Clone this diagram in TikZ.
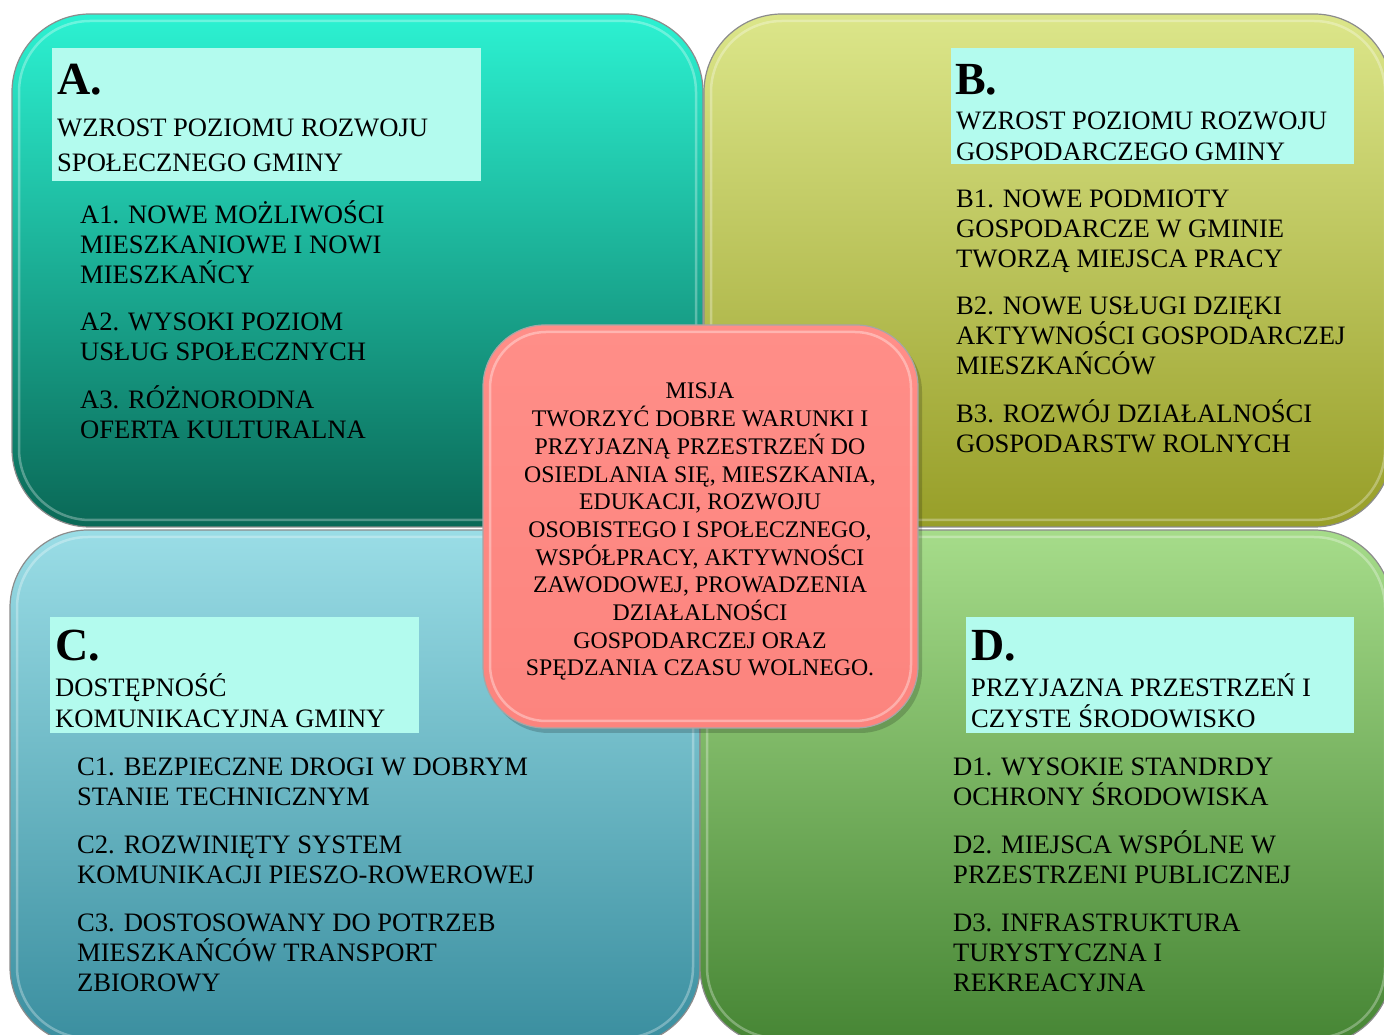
\documentclass[tikz,border=0pt]{standalone}
\usepackage{fontspec}
\setmainfont{Liberation Serif}

\definecolor{aTop}{HTML}{2CF2D2}
\definecolor{aMid}{HTML}{12B898}
\definecolor{aBot}{HTML}{0A6856}
\definecolor{bTop}{HTML}{DCE68A}
\definecolor{bMid}{HTML}{C4D03C}
\definecolor{bBot}{HTML}{979E28}
\definecolor{cTop}{HTML}{9ADDE6}
\definecolor{cMid}{HTML}{5CC6D6}
\definecolor{cBot}{HTML}{3A8E9F}
\definecolor{dTop}{HTML}{A6DC8A}
\definecolor{dMid}{HTML}{66B84A}
\definecolor{dBot}{HTML}{468534}
\definecolor{mTop}{HTML}{FF8E88}
\definecolor{mBot}{HTML}{FC847E}
\definecolor{mint}{HTML}{B3FBEE}

\begin{document}
\begin{tikzpicture}[x=1pt,y=1pt,
  tile/.style={rounded corners=78pt, draw=black!45, line width=1.2pt},
  rim/.style={rounded corners=71pt, draw=white, draw opacity=.3, line width=2.5pt},
  letter/.style={anchor=base west, inner sep=0, font=\fontsize{46}{46}\selectfont\bfseries},
  head/.style={anchor=base west, align=left, inner sep=0, font=\fontsize{26.6}{31}\selectfont},
  goal/.style={anchor=base west, align=left, inner sep=0, font=\fontsize{26.6}{30}\selectfont},
  mission/.style={anchor=base, align=center, inner sep=0, font=\fontsize{23.8}{27.7}\selectfont}]
  \useasboundingbox (0,0) rectangle (1384,1034);

  % four fields
  \shadedraw[tile, top color=aTop, middle color=aMid, bottom color=aBot] (12,507) rectangle (703,1020);
  \draw[rim] (19,514) rectangle (696,1013);
  \shadedraw[tile, top color=bTop, middle color=bMid, bottom color=bBot] (704,507) rectangle (1392,1020);
  \draw[rim] (711,514) rectangle (1385,1013);
  \shadedraw[tile, top color=cTop, middle color=cMid, bottom color=cBot] (10,-11) rectangle (700,504);
  \draw[rim] (17,-4) rectangle (693,497);
  \shadedraw[tile, top color=dTop, middle color=dMid, bottom color=dBot] (700,-11) rectangle (1392,504);
  \draw[rim] (707,-4) rectangle (1385,497);

  % header boxes
  \fill[mint] (52,853) rectangle (481,986);
  \fill[mint] (951,870) rectangle (1354,986);
  \fill[mint] (50,301) rectangle (419,417);
  \fill[mint] (966,301) rectangle (1354,417);

  % A (nodes sit on the baseline of their last line)
  \node[letter] (A) at (57,939) {A.};
  \node[head, font=\fontsize{26.6}{35}\selectfont] (Ahead) at (57,862) {WZROST POZIOMU ROZWOJU\\SPOŁECZNEGO GMINY};
  \node[goal] (A1) at (80,750) {A1. NOWE MOŻLIWOŚCI\\MIESZKANIOWE I NOWI\\MIESZKAŃCY};
  \node[goal] (A2) at (80,673) {A2. WYSOKI POZIOM\\USŁUG SPOŁECZNYCH};
  \node[goal] (A3) at (80,595) {A3. RÓŻNORODNA\\OFERTA KULTURALNA};

  % B
  \node[letter] (B) at (955,939) {B.};
  \node[head] (Bhead) at (956,873) {WZROST POZIOMU ROZWOJU\\GOSPODARCZEGO GMINY};
  \node[goal] (B1) at (956,766) {B1. NOWE PODMIOTY\\GOSPODARCZE W GMINIE\\TWORZĄ MIEJSCA PRACY};
  \node[goal] (B2) at (956,659) {B2. NOWE USŁUGI DZIĘKI\\AKTYWNOŚCI GOSPODARCZEJ\\MIESZKAŃCÓW};
  \node[goal] (B3) at (956,581) {B3. ROZWÓJ DZIAŁALNOŚCI\\GOSPODARSTW ROLNYCH};

  % C
  \node[letter] (C) at (55,373) {C.};
  \node[head] (Chead) at (55,306) {DOSTĘPNOŚĆ\\KOMUNIKACYJNA GMINY};
  \node[goal] (C1) at (77,228) {C1. BEZPIECZNE DROGI W DOBRYM\\STANIE TECHNICZNYM};
  \node[goal] (C2) at (77,151) {C2. ROZWINIĘTY SYSTEM\\KOMUNIKACJI PIESZO-ROWEROWEJ};
  \node[goal] (C3) at (77,43) {C3. DOSTOSOWANY DO POTRZEB\\MIESZKAŃCÓW TRANSPORT\\ZBIOROWY};

  % D
  \node[letter] (D) at (971,373) {D.};
  \node[head] (Dhead) at (971,306) {PRZYJAZNA PRZESTRZEŃ I\\CZYSTE ŚRODOWISKO};
  \node[goal] (D1) at (953,228) {D1. WYSOKIE STANDRDY\\OCHRONY ŚRODOWISKA};
  \node[goal] (D2) at (953,151) {D2. MIEJSCA WSPÓLNE W\\PRZESTRZENI PUBLICZNEJ};
  \node[goal] (D3) at (953,43) {D3. INFRASTRUKTURA\\TURYSTYCZNA I\\REKREACYJNA};

  % mission in the middle
  \fill[black, opacity=.18, rounded corners=62pt] (487,301) rectangle (922,704);
  \shadedraw[rounded corners=62pt, draw=black!35, line width=1.2pt, top color=mTop, bottom color=mBot] (483,306) rectangle (918,709);
  \draw[rounded corners=56pt, draw=white, draw opacity=.35, line width=2.5pt] (490,313) rectangle (911,702);
  \node[mission] (misja) at (700,358) {MISJA\\TWORZYĆ DOBRE WARUNKI I\\PRZYJAZNĄ PRZESTRZEŃ DO\\OSIEDLANIA SIĘ, MIESZKANIA,\\EDUKACJI, ROZWOJU\\OSOBISTEGO I SPOŁECZNEGO,\\WSPÓŁPRACY, AKTYWNOŚCI\\ZAWODOWEJ, PROWADZENIA\\DZIAŁALNOŚCI\\GOSPODARCZEJ ORAZ\\SPĘDZANIA CZASU WOLNEGO.};
\end{tikzpicture}
\end{document}
